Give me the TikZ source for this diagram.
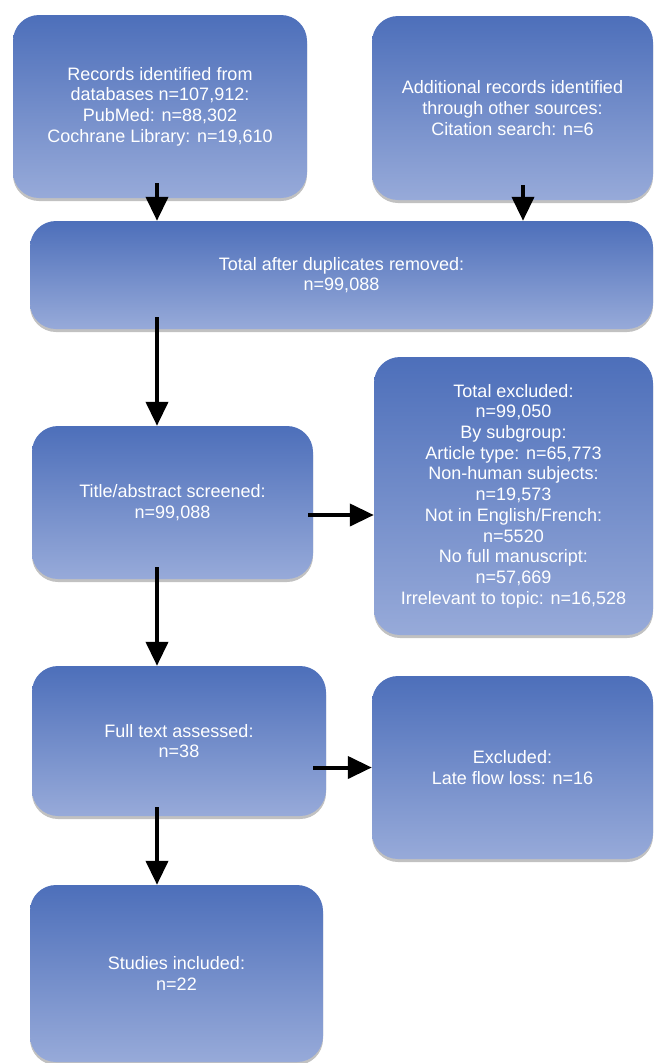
\documentclass[tikz,border=0pt]{standalone}
\usepackage{fontspec}
\setmainfont{Liberation Sans}
\usetikzlibrary{arrows.meta,shadows}
\definecolor{boxtop}{HTML}{4D6FBA}
\definecolor{boxmid}{HTML}{859CD2}
\definecolor{boxbot}{HTML}{97AAD9}
\begin{document}
\begin{tikzpicture}[x=1pt,y=-1pt,line join=round,
    box/.style={rounded corners=26pt,inner sep=0pt,align=center,
      top color=boxtop,middle color=boxmid,bottom color=boxbot,
      text=white,font=\fontsize{18pt}{20.7pt}\selectfont,
      drop shadow={shadow xshift=0pt,shadow yshift=-3pt,opacity=.35,fill=black!70}},
    arr/.style={line width=4pt,-{Triangle[width=22pt,length=24pt]}}]
  \useasboundingbox (0,0) rectangle (654,1063);

  \node[box,minimum width=294pt,minimum height=183pt] (rec) at (160,106.5)
    {Records identified from\\databases n=107,912:\\PubMed: n=88,302\\Cochrane Library: n=19,610};
  \node[box,minimum width=281pt,minimum height=184pt] (add) at (512.5,108)
    {Additional records identified\\through other sources:\\Citation search: n=6};
  \node[box,minimum width=623pt,minimum height=108pt] (dup) at (341.5,275)
    {Total after duplicates removed:\\n=99,088};
  \node[box,minimum width=281pt,minimum height=153pt] (scr) at (172.5,502.5)
    {Title/abstract screened:\\n=99,088};
  \node[box,minimum width=279pt,minimum height=278pt] (exc) at (513.5,496)
    {Total excluded:\\n=99,050\\By subgroup:\\Article type: n=65,773\\Non-human subjects:\\n=19,573\\Not in English/French:\\n=5520\\No full manuscript:\\n=57,669\\Irrelevant to topic: n=16,528};
  \node[box,minimum width=294pt,minimum height=150pt] (full) at (179,741)
    {Full text assessed:\\n=38};
  \node[box,minimum width=281pt,minimum height=183pt] (late) at (512.5,767.5)
    {Excluded:\\Late flow loss: n=16};
  \node[box,minimum width=293pt,minimum height=177pt] (inc) at (176.5,973.5)
    {Studies included:\\n=22};

  % arrow columns and row
  \coordinate (c1) at (157,0);
  \coordinate (c2) at (523,0);
  \coordinate (r1) at (0,515);

  \draw[arr] ([yshift=15pt]c1 |- rec.south) -- (c1 |- dup.north);
  \draw[arr] ([yshift=15pt]c2 |- add.south) -- (c2 |- dup.north);
  \draw[arr] ([yshift=12pt]c1 |- dup.south) -- (c1 |- scr.north);
  \draw[arr] ([xshift=-5pt]scr.east |- r1) -- (exc.west |- r1);
  \draw[arr] ([yshift=12pt]c1 |- scr.south) -- (c1 |- full.north);
  \draw[arr] ([xshift=-13pt]full.east |- late.west) -- (late.west);
  \draw[arr] ([yshift=9pt]c1 |- full.south) -- (c1 |- inc.north);
\end{tikzpicture}
\end{document}
